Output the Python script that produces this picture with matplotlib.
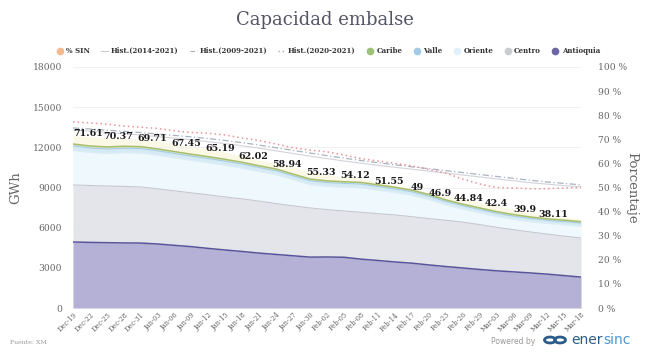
import numpy as np
import matplotlib
matplotlib.use("Agg")
import matplotlib.pyplot as plt
from matplotlib.lines import Line2D
from matplotlib.patches import Circle

# ---------------- data ----------------
days = list(range(0, 91, 3))
tick_labels = ["Dec-19", "Dec-22", "Dec-25", "Dec-28", "Dec-31", "Jan-03", "Jan-06", "Jan-09",
               "Jan-12", "Jan-15", "Jan-18", "Jan-21", "Jan-24", "Jan-27", "Jan-30", "Feb-02",
               "Feb-05", "Feb-08", "Feb-11", "Feb-14", "Feb-17", "Feb-20", "Feb-23", "Feb-26",
               "Feb-29", "Mar-03", "Mar-06", "Mar-09", "Mar-12", "Mar-15", "Mar-18"]

antioquia = [4930, 4900, 4880, 4860, 4850, 4780, 4680, 4580, 4450, 4330, 4220, 4100, 4000, 3900,
             3800, 3810, 3790, 3650, 3550, 3440, 3350, 3220, 3100, 2990, 2880, 2780, 2700, 2620,
             2530, 2420, 2310]
centro = [4260, 4250, 4230, 4220, 4190, 4120, 4070, 4020, 4000, 3960, 3930, 3880, 3800, 3730,
          3670, 3540, 3460, 3500, 3500, 3510, 3470, 3460, 3450, 3430, 3350, 3250, 3150, 3060,
          2990, 2950, 2920]
oriente = [2580, 2472, 2444, 2528, 2542, 2516, 2472, 2428, 2404, 2370, 2296, 2212, 2158, 1954,
           1750, 1740, 1780, 1835, 1760, 1685, 1600, 1425, 1160, 975, 890, 815, 780, 775, 800,
           855, 890]
valle = [330, 328, 326, 324, 322, 320, 316, 312, 308, 304, 300, 296, 292, 288, 284, 280, 276,
         272, 268, 264, 260, 256, 252, 248, 244, 240, 236, 232, 228, 224, 220]
caribe = [150, 150, 150, 148, 146, 144, 142, 140, 138, 136, 134, 132, 130, 128, 126, 125, 124,
          123, 122, 121, 120, 119, 118, 117, 116, 115, 114, 113, 112, 111, 110]

hist_2014_2021 = [73.8, 73.4, 72.9, 72.3, 71.8, 71.1, 70.5, 69.8, 69.0, 68.2, 67.3, 66.3, 65.2,
                  64.1, 63.0, 62.0, 61.0, 60.1, 59.2, 58.4, 57.6, 56.8, 56.0, 55.2, 54.4, 53.6,
                  52.8, 52.0, 51.4, 50.8, 50.3]
hist_2009_2021 = [74.7, 74.3, 73.8, 73.3, 72.8, 72.2, 71.6, 71.0, 70.3, 69.5, 68.6, 67.6, 66.5,
                  65.4, 64.3, 63.2, 62.2, 61.2, 60.3, 59.4, 58.6, 57.8, 57.0, 56.2, 55.4, 54.6,
                  53.8, 53.0, 52.3, 51.7, 51.1]
hist_2020_2021 = [77.2, 76.8, 76.3, 75.5, 75.0, 74.5, 73.5, 72.8, 72.5, 71.8, 70.5, 69.5, 68.0,
                  66.5, 65.5, 64.8, 63.5, 62.0, 61.0, 60.0, 59.0, 57.5, 56.0, 53.5, 51.5, 50.0,
                  49.8, 49.5, 49.5, 49.8, 50.0]

pct_days = [0, 8, 14, 20, 26, 32, 38, 44, 50, 56, 61, 65, 70, 75, 80, 85, 90]
pct_sin = [71.61, 70.37, 69.71, 67.45, 65.19, 62.02, 58.94, 55.33, 54.12, 51.55, 49, 46.9,
           44.84, 42.4, 39.9, 38.11, 36.9]
pct_labeled = [True] * 16 + [False]

# ---------------- style ----------------
SERIF = "DejaVu Serif"
GRAY = "#666666"
col = {
    "Antioquia": ("#b5b0d6", "#58549a"),
    "Centro": ("#e4e5ea", "#c6c8ce"),
    "Oriente": ("#eef8fd", "#dcedf6"),
    "Valle": ("#d6eaf6", "#a3cde8"),
    "Caribe": ("#dfe8c8", "#a6bd6c"),
}

fig = plt.figure(figsize=(6.5, 3.53), dpi=100)
fig.patch.set_facecolor("white")
rect = [73 / 650, 1 - 308 / 353, (581 - 73) / 650, (308 - 67) / 353]

ax = fig.add_axes(rect)
axp = ax.twinx()
axh = ax.twinx()
axp.set_zorder(0)
ax.set_zorder(1)
axh.set_zorder(2)
ax.patch.set_visible(False)
axh.patch.set_visible(False)

# % SIN area (behind the stack)
axp.fill_between(pct_days, 0, pct_sin, color="#fcf8e6", lw=0)
axp.set_ylim(0, 100)

# stacked areas
layers = [("Antioquia", antioquia), ("Centro", centro), ("Oriente", oriente),
          ("Valle", valle), ("Caribe", caribe)]
base = np.zeros(len(days))
for name, vals in layers:
    top = base + np.array(vals, dtype=float)
    fc, lc = col[name]
    ax.fill_between(days, base, top, color=fc, lw=0)
    ax.plot(days, top, color=lc, lw=1.1 if name in ("Antioquia", "Caribe") else 0.8)
    base = top

ax.set_xlim(0, 90)
ax.set_ylim(0, 18000)
ax.set_yticks(range(0, 18001, 3000))
ax.set_yticklabels([str(v) for v in range(0, 18001, 3000)])
ax.set_xticks(days)
ax.set_xticklabels(tick_labels, rotation=45, ha="right", rotation_mode="anchor")
ax.grid(axis="y", color="#f1f1f1", lw=0.8)
ax.set_axisbelow(True)

# historical lines + labels on top
axh.set_ylim(0, 100)
axh.plot(days, hist_2014_2021, color="#d2d2da", lw=0.8, ls="-")
axh.plot(days, hist_2009_2021, color="#a9b3c2", lw=0.9, ls=(0, (5, 2, 1, 2)))
axh.plot(days, hist_2020_2021, color="#e8939b", lw=1.1, ls=(0, (1, 2)))
for i, (d, v, show) in enumerate(zip(pct_days, pct_sin, pct_labeled)):
    if not show:
        continue
    axh.text(d, v + 0.8, f"{v:g}", ha="left" if i == 0 else "center", va="center",
             fontsize=6.8, fontweight="bold", family=SERIF, color="#1a1a1a")
axh.set_yticks([])
axh.tick_params(right=False, labelright=False)

axp.set_yticks(range(0, 101, 10))
axp.set_yticklabels([f"{v} %" for v in range(0, 101, 10)])

for a in (ax, axp, axh):
    for s in a.spines.values():
        s.set_visible(False)

ax.tick_params(axis="y", length=0, labelsize=6.6, labelcolor=GRAY, pad=8)
ax.tick_params(axis="x", length=0, labelsize=4.8, labelcolor=GRAY, pad=2)
axp.tick_params(axis="y", length=0, labelsize=6.6, labelcolor=GRAY, pad=12)
for lab in ax.get_xticklabels() + ax.get_yticklabels() + axp.get_yticklabels():
    lab.set_family(SERIF)

ax.set_ylabel("GWh", family=SERIF, fontsize=9.5, color=GRAY)
ax.yaxis.set_label_coords((22 - 73) / 508, 0.5)
axp.set_ylabel("Porcentaje", family=SERIF, fontsize=9.5, color=GRAY, rotation=-90,
               va="center")
axp.yaxis.set_label_coords((632 - 73) / 508, 0.5)

fig.text(0.5, 1 - 20 / 353, "Capacidad embalse", ha="center", va="center",
         family=SERIF, fontsize=13, color="#555566")

# legend
handles = [
    Line2D([], [], ls="none", marker="o", ms=4.5, color="#f4b98f"),
    Line2D([], [], ls="-", lw=0.8, color="#cccccc"),
    Line2D([], [], ls=(0, (4, 2)), lw=0.8, color="#aaaaaa"),
    Line2D([], [], ls=(0, (1, 2)), lw=1.0, color="#aaaaaa"),
    Line2D([], [], ls="none", marker="o", ms=4.5, color="#9cc177"),
    Line2D([], [], ls="none", marker="o", ms=4.5, color="#9fcbe6"),
    Line2D([], [], ls="none", marker="o", ms=4.5, color="#e0f1fa"),
    Line2D([], [], ls="none", marker="o", ms=4.5, color="#cacbd0"),
    Line2D([], [], ls="none", marker="o", ms=4.5, color="#6a66a3"),
]
labels = ["% SIN", "Hist.(2014-2021)", "Hist.(2009-2021)", "Hist.(2020-2021)",
          "Caribe", "Valle", "Oriente", "Centro", "Antioquia"]
leg = fig.legend(handles, labels, loc="center", bbox_to_anchor=(0.505, 1 - 51 / 353),
                 ncol=9, frameon=False, handlelength=1.0, handletextpad=0.4,
                 columnspacing=1.6, prop={"family": SERIF, "size": 5, "weight": "bold"})
for t in leg.get_texts():
    t.set_color("#333333")

# footer
fig.text(10 / 650, 1 - 343 / 353, "Fuente: XM", fontsize=4.5, color="#999999",
         family=SERIF, va="center")
fig.text(535 / 650, 1 - 341 / 353, "Powered by", fontsize=5.5, color="#999999",
         ha="right", va="center")
for cx in (550, 560):
    fig.add_artist(Circle((cx / 650, 1 - 340 / 353), 5.5 / 650, transform=fig.transFigure,
                          fill=False, lw=2.0, ec="#2d5c8a"))
t1 = fig.text(571 / 650, 1 - 340 / 353, "ener", fontsize=10, color="#2d5c8a", va="center",
              family="DejaVu Sans")
fig.canvas.draw()
bb = t1.get_window_extent()
fig.text(bb.x1 / fig.bbox.width + 0.5 / 650, 1 - 340 / 353, "sinc", fontsize=10,
         color="#4b97cf", va="center", family="DejaVu Sans")

fig.savefig("out.png", dpi=100, facecolor="white")
